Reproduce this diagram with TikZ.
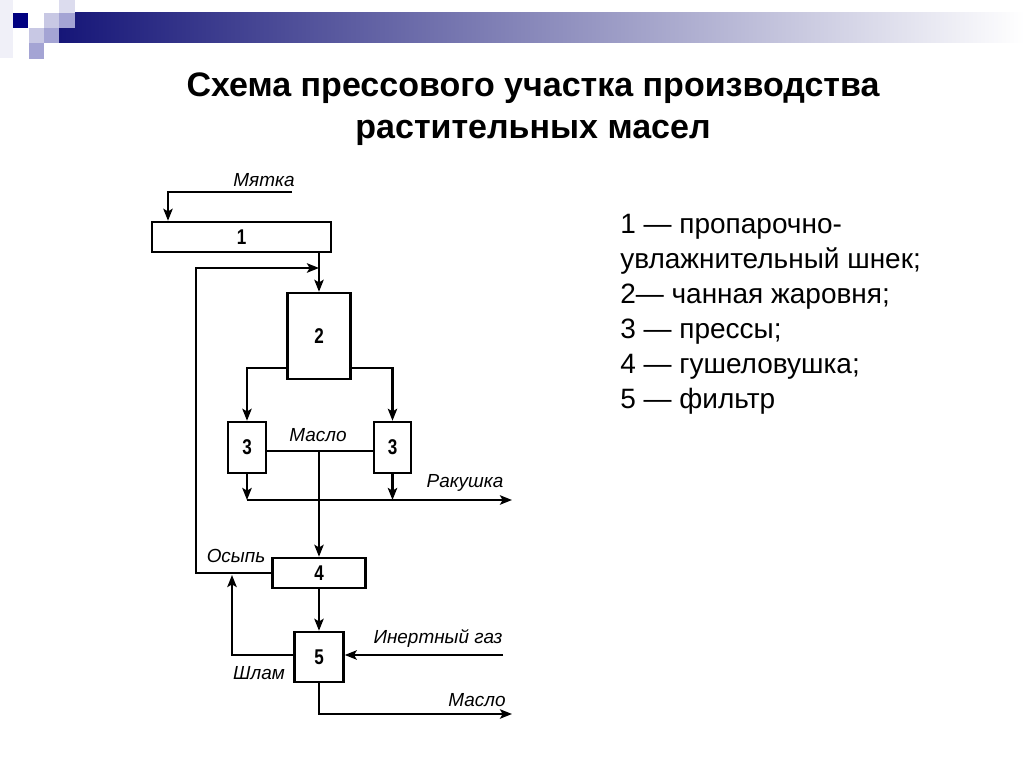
\documentclass[tikz,border=0pt]{standalone}
\usepackage{fontspec}
\setmainfont{Liberation Sans}
\newfontfamily\techfont[FakeStretch=0.8]{Liberation Sans}
\usetikzlibrary{arrows.meta,calc}
\definecolor{navyA}{RGB}{0,0,128}
\definecolor{lavL}{RGB}{200,200,228}
\definecolor{lavVL}{RGB}{220,220,238}
\definecolor{lavM}{RGB}{164,164,212}
\definecolor{lavF}{RGB}{240,240,248}
\definecolor{barL}{RGB}{22,22,120}
\definecolor{barM}{RGB}{172,172,194}
\begin{document}
\begin{tikzpicture}[x=0.75pt,y=-0.75pt,
  box/.style={draw, line width=1.8pt, inner sep=0pt, font=\techfont\bfseries\fontsize{16}{16}\selectfont},
  ln/.style={line width=1.8pt},
  arr/.style={line width=1.8pt, -{Stealth[length=9pt,width=7pt,inset=2pt]}},
  lbl/.style={font=\fontsize{14.2}{15}\selectfont\itshape, inner sep=0pt},
  leg/.style={font=\fontsize{21}{22}\selectfont, anchor=base west, inner sep=0pt},
  ttl/.style={font=\fontsize{25.5}{26}\selectfont\bfseries, anchor=base, inner sep=0pt}]
\useasboundingbox[fill=white] (0,0) rectangle (1024,767);
% header decoration
\fill[lavF] (0,0) rectangle (13,58);
\shade[left color=barL, middle color=barM, right color=white] (59,13) rectangle (1024,43);
\fill[navyA] (13,13) rectangle (28,28);
\fill[lavL] (44,13) rectangle (59,28);
\fill[lavVL] (59,0) rectangle (75,13);
\fill[lavM] (59,13) rectangle (75,28);
\fill[lavL] (29,28) rectangle (44,43);
\fill[lavM] (44,28) rectangle (59,43);
\fill[lavM] (29,43) rectangle (44,59);
% title
\node[ttl] (t1) at (533,97) {Схема прессового участка производства};
\node[ttl] (t2) at (533,138) {растительных масел};
% legend
\node[leg] (l1) at (620,233) {1 — пропарочно-};
\node[leg] (l2) at (620,268) {увлажнительный шнек;};
\node[leg] (l3) at (620,303) {2— чанная жаровня;};
\node[leg] (l4) at (620,338) {3 — прессы;};
\node[leg] (l5) at (620,373) {4 — гушеловушка;};
\node[leg] (l6) at (620,408) {5 — фильтр};
% boxes
\node[box, minimum width=179*0.75pt, minimum height=30*0.75pt] (b1) at (241.5,237) {1};
\node[box, minimum width=63*0.75pt, minimum height=86*0.75pt] (b2) at (319,336) {2};
\node[box, minimum width=38*0.75pt, minimum height=51*0.75pt] (b3l) at (247,447.5) {3};
\node[box, minimum width=37*0.75pt, minimum height=51*0.75pt] (b3r) at (392.5,447.5) {3};
\node[box, minimum width=93*0.75pt, minimum height=30*0.75pt] (b4) at (319,573) {4};
\node[box, minimum width=49*0.75pt, minimum height=50*0.75pt] (b5) at (319,657) {5};
% coordinates
\coordinate (mj) at (292,192);
\coordinate (mjc) at (168,192);
\coordinate (fbA) at (196,268);
\coordinate (fbB) at (196,573);
\coordinate (brY) at (0,368);
\coordinate (msY) at (0,451);
\coordinate (rkY) at (0,500);
\coordinate (rkE) at (512,500);
\coordinate (gY) at (0,655);
\coordinate (slE) at (232,575);
\coordinate (gS) at (503,655);
\coordinate (moE) at (512,714);
% connectors
\draw[arr] (mj) -- (mjc) -- (mjc |- b1.north);
\draw[arr] (b1.south -| b2.north) -- (b2.north);
\draw[arr] (b4.west) -- (fbB) -- (fbA) -- (fbA -| b2.north);
\draw[arr] (b2.west |- brY) -| (b3l.north);
\draw[arr] (b2.east |- brY) -| (b3r.north);
\draw[ln] (b3l.east |- msY) -- (b3r.west |- msY);
\coordinate (msJ) at (b4.north |- msY);
\draw[arr] (msJ) -- (b4.north);
\draw[arr] (b3l.south) -- (b3l.south |- rkY);
\draw[arr] (b3r.south) -- (b3r.south |- rkY);
\draw[arr] (b3l.south |- rkY) -- (rkE);
\draw[arr] (b4.south) -- (b5.north);
\draw[arr] (b5.west |- gY) -| (slE);
\draw[arr] (gS) -- (b5.east |- gS);
\draw[arr] (b5.south) |- (moE);
% labels
\node[lbl] (lm) at (264,180) {Мятка};
\node[lbl] (lmas) at (318,435) {Масло};
\node[lbl] (lrk) at (465,483) {Ракушка};
\node[lbl] (los) at (236,556) {Осыпь};
\node[lbl] (lsh) at (259,673) {Шлам};
\node[lbl] (lig) at (438,638) {Инертный газ};
\node[lbl] (lmo) at (477,700) {Масло};
\end{tikzpicture}
\end{document}
